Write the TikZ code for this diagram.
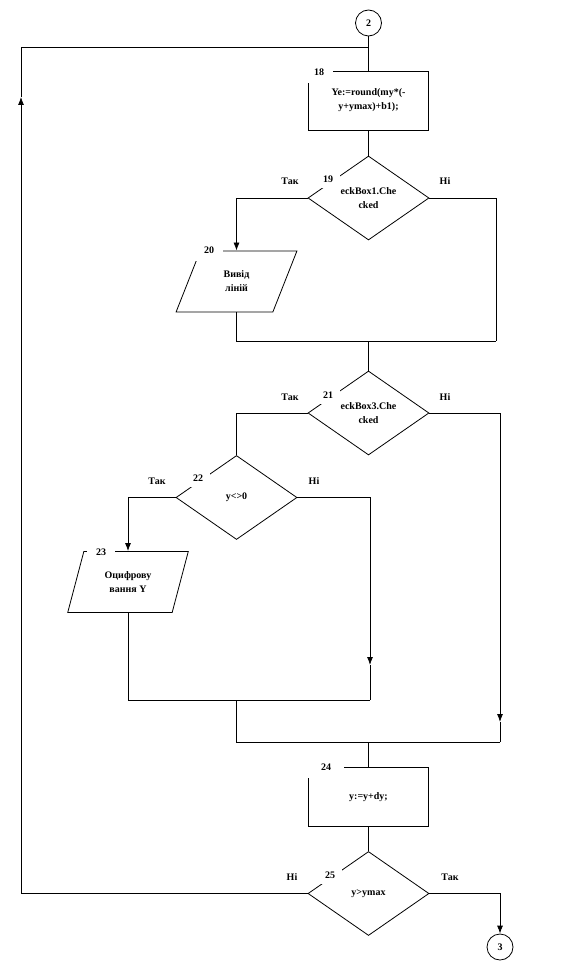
\documentclass[tikz,border=0pt]{standalone}
\usepackage{fontspec}
\setmainfont{Liberation Serif}
\usetikzlibrary{arrows.meta,shapes.geometric}

\begin{document}
\begin{tikzpicture}[
            x=0.75pt, y=-0.75pt,
            font=\fontsize{7.5}{10.5}\selectfont\bfseries,
            line width=0.6pt,
            blok/.style={draw, rectangle, minimum width=90pt, minimum height=44.25pt, align=center, inner sep=0pt},
            umova/.style={draw, diamond, aspect=1.44, minimum width=90.75pt, minimum height=63pt, align=center, inner sep=0pt},
            vvid/.style={draw, trapezium, trapezium left angle=68, trapezium right angle=112, trapezium stretches=true, minimum width=90.75pt, minimum height=45.75pt, align=center, inner sep=0pt},
            konektor/.style={draw, circle, minimum size=19.5pt, inner sep=0pt},
            nomer/.style={fill=white, inner sep=0pt, minimum width=21pt, minimum height=17pt},
            nomerd/.style={fill=white, inner sep=0pt, minimum width=18pt, minimum height=13pt},
            flecha/.style={-{Latex[length=6pt,width=4.5pt]}}
        ]
\useasboundingbox (0,0) rectangle (564,963);

\node[konektor] (k2) at (368.5,23) {2};
\node[blok] (b18) at (368.5,100.5) {Ye:=round(my*(-\\y+ymax)+b1);};
\node[umova] (u19) at (368.5,198) {eckBox1.Che\\cked};
\node[vvid] (v20) at (236.5,281.5) {Вивід\\ліній};
\node[umova] (u21) at (368.5,413) {eckBox3.Che\\cked};
\node[umova] (u22) at (236.5,497.5) {y<>0};
\node[vvid] (v23) at (128,582) {Оцифрову\\вання Y};
\node[blok] (b24) at (368.5,797) {y:=y+dy;};
\node[umova] (u25) at (368.5,893.5) {y>ymax};
\node[konektor] (k3) at (500,947) {3};

\coordinate (n19) at (496,341);
\coordinate (m1) at (368.5,341);
\coordinate (s21) at (500,722);
\coordinate (m3r) at (500,742);
\coordinate (s22) at (370,665);
\coordinate (m2r) at (370,700);
\coordinate (m2) at (236.5,700);
\coordinate (m3l) at (236.5,742);
\coordinate (m3) at (368.5,742);
\coordinate (s25) at (21,97);
\coordinate (v2) at (368.5,47);

\draw (k2) -- (b18);
\draw (b18) -- (u19);
\draw[flecha] (u19.west) -| (v20.north);
\draw (u19.east) -| (n19);
\draw (v20.south) |- (n19);
\draw (m1) -- (u21);
\draw (u21.west) -| (u22.north);
\draw[flecha] (u21.east) -| (s21);
\draw (s21) -- (m3r);
\draw[flecha] (u22.west) -| (v23.north);
\draw[flecha] (u22.east) -| (s22);
\draw (s22) -- (m2r);
\draw (v23.south) |- (m2r);
\draw (m2) -- (m3l) -- (m3r);
\draw (m3) -- (b24);
\draw (b24) -- (u25);
\draw[flecha] (u25.east) -| (k3);
\draw[flecha] (u25.west) -| (s25);
\draw (s25) |- (v2);

% numbers of blocks
\node[nomer] (n18) at (319,72) {18};
\node[nomerd] (n19l) at (328,179) {19};
\node[nomer] (n20) at (209,250) {20};
\node[nomerd] (n21) at (328,395) {21};
\node[nomerd] (n22) at (198,478) {22};
\node[nomer] (n23) at (101,552) {23};
\node[nomer, minimum width=27pt] (n24) at (326,767) {24};
\node[nomerd] (n25) at (330,875) {25};

% branch labels
\node (tak19) at (290,181) {Так};
\node (ni19) at (445,181) {Ні};
\node (tak21) at (290,397) {Так};
\node (ni21) at (445,397) {Ні};
\node (tak22) at (157,481) {Так};
\node (ni22) at (314,481) {Ні};
\node (ni25) at (292,877) {Ні};
\node (tak25) at (450,877) {Так};
\end{tikzpicture}
\end{document}
